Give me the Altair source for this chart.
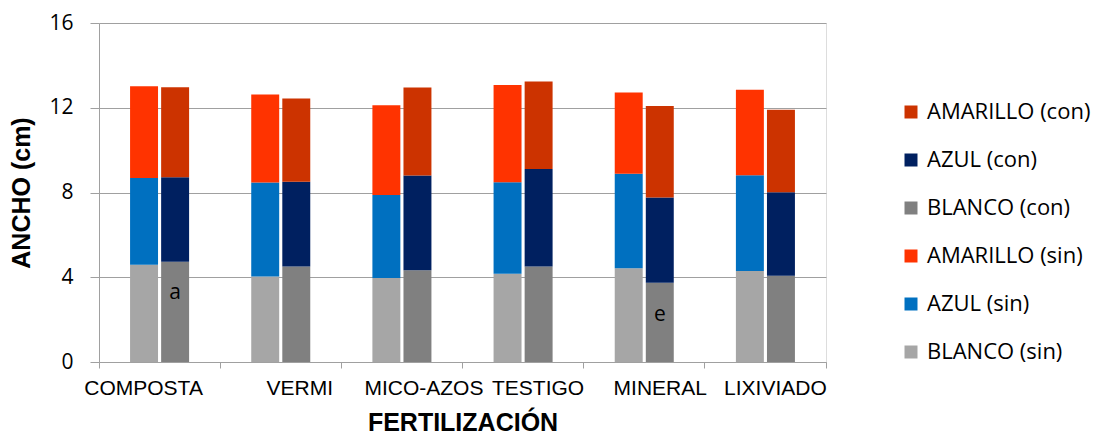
import altair as alt
import pandas as pd

# ---- data ----
cats = ["COMPOSTA", "VERMI", "MICO-AZOS", "TESTIGO", "MINERAL", "LIXIVIADO"]
grupos = ["sin", "con"]
colores_nombre = ["BLANCO", "AZUL", "AMARILLO"]

blanco_sin = [4.59, 4.04, 3.97, 4.16, 4.43, 4.30]
azul_sin = [4.10, 4.43, 3.91, 4.32, 4.46, 4.51]
amarillo_sin = [4.33, 4.16, 4.24, 4.59, 3.83, 4.04]
blanco_con = [4.73, 4.51, 4.33, 4.51, 3.74, 4.07]
azul_con = [3.99, 4.00, 4.47, 4.60, 4.02, 3.94]
amarillo_con = [4.25, 3.93, 4.16, 4.13, 4.32, 3.90]

legend_order = ["AMARILLO (con)", "AZUL (con)", "BLANCO (con)",
                "AMARILLO (sin)", "AZUL (sin)", "BLANCO (sin)"]
legend_colors = ["#CC3300", "#002060", "#808080", "#FF3300", "#0070C0", "#A6A6A6"]

ann_cats = ["COMPOSTA", "MINERAL"]
ann_grupo = ["con", "con"]
ann_y = [3.27, 2.23]
ann_text = ["a", "e"]

y_ticks = [0, 4, 8, 12, 16]

# ---- build table ----
series = {
    "sin": [blanco_sin, azul_sin, amarillo_sin],
    "con": [blanco_con, azul_con, amarillo_con],
}
rows = []
for g in grupos:
    for k, (nombre, vals) in enumerate(zip(colores_nombre, series[g])):
        for c, v in zip(cats, vals):
            rows.append({"cat": c, "grupo": g, "serie": f"{nombre} ({g})",
                         "value": v, "orden": k})
df = pd.DataFrame(rows)
ann = pd.DataFrame({"cat": ann_cats, "grupo": ann_grupo, "ypos": ann_y, "letra": ann_text})

GRID = "#A0A0A0"

label_offsets = {"COMPOSTA": -16, "VERMI": 19, "MICO-AZOS": 22,
                 "TESTIGO": 15, "MINERAL": 16, "LIXIVIADO": 10}
offset_cond = {
    "condition": [{"test": f"datum.value === '{k}'", "value": v}
                  for k, v in label_offsets.items()],
    "value": 0,
}

x_enc = alt.X(
    "cat:N", sort=cats,
    scale=alt.Scale(paddingInner=0, paddingOuter=0),
    axis=alt.Axis(
        title="FERTILIZACIÓN", labelAngle=0, bandPosition=1, tickExtra=True,
        labelFont="Liberation Sans", labelFontSize=21, labelColor="black",
        labelPadding=9, tickSize=6, tickColor=GRID, domainColor=GRID,
        labelOffset=offset_cond, labelLimit=300,
        titleFont="Liberation Sans", titleFontSize=25, titleFontWeight="bold",
        titleColor="black", titlePadding=12, grid=False,
    ),
)
xo_enc = alt.XOffset("grupo:N", sort=grupos,
                     scale=alt.Scale(paddingInner=0.1, paddingOuter=1))

y_axis = alt.Axis(
    title="ANCHO (cm)", values=y_ticks, grid=True, gridColor=GRID,
    domainColor=GRID, tickColor=GRID, tickSize=9,
    labelFont="Open Sans", labelFontSize=21, labelColor="black", labelPadding=17,
    titleFont="Liberation Sans", titleFontSize=25, titleFontWeight="bold",
    titleColor="black", titlePadding=14,
)

bars = alt.Chart(df).mark_bar().encode(
    x=x_enc,
    xOffset=xo_enc,
    y=alt.Y("value:Q", stack="zero", scale=alt.Scale(domain=[0, 16]), axis=y_axis),
    color=alt.Color(
        "serie:N",
        scale=alt.Scale(domain=legend_order, range=legend_colors),
        legend=alt.Legend(
            title=None, orient="none", legendX=801, legendY=78,
            symbolType="square", symbolSize=169, symbolStrokeWidth=0,
            labelFont="Open Sans", labelFontSize=22, labelColor="black",
            labelOffset=5, rowPadding=26, padding=0, labelLimit=400,
        ),
    ),
    order=alt.Order("orden:Q", sort="ascending"),
)

texts = alt.Chart(ann).mark_text(
    font="Open Sans", fontSize=21, color="black", baseline="middle"
).encode(
    x=alt.X("cat:N", sort=cats),
    xOffset=alt.XOffset("grupo:N", sort=grupos),
    y=alt.Y("ypos:Q", title="ANCHO (cm)"),
    text="letra:N",
)

chart = alt.layer(bars, texts).properties(
    width=727, height=339,
    autosize=alt.AutoSizeParams(type="none"),
    padding={"left": 91, "top": 15, "right": 267, "bottom": 72},
).configure_view(stroke=None).configure(background="white")

chart.save("out.html", embed_options={"renderer": "svg", "actions": False})
